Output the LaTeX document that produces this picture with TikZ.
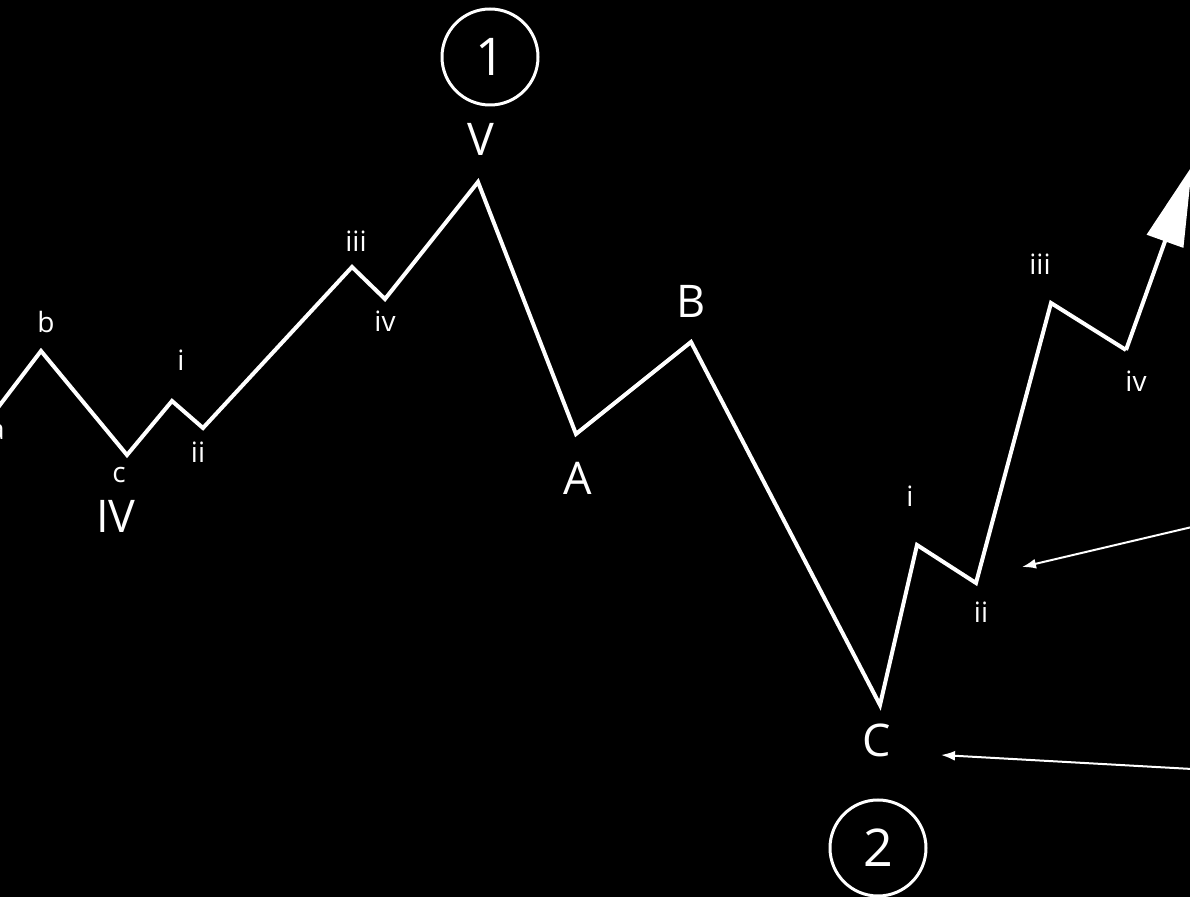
\documentclass[tikz,border=0pt]{standalone}
\usepackage{fontspec}
\setmainfont{Open Sans}
\usetikzlibrary{arrows.meta}

\begin{document}
\begin{tikzpicture}[
x=0.5pt, y=-0.5pt,
wave/.style={draw=white, line width=2pt, line join=miter},
lbl/.style={text=white, anchor=base, inner sep=0pt, font=\fontsize{14}{16}\selectfont},
biglbl/.style={text=white, anchor=base, inner sep=0pt, font=\fontsize{22.5}{26}\selectfont},
degree/.style={draw=white, line width=1.5pt, circle, minimum size=48pt, inner sep=0pt, text=white, font=\fontsize{26}{30}\selectfont},
pointer/.style={draw=white, line width=1pt, -{Latex[length=7pt, width=5pt]}}
]
\fill[black] (0,0) rectangle (1190,897);
\useasboundingbox (0,0) rectangle (1190,897);

% wave points
\coordinate (start) at (-10,418);
\coordinate (b) at (41,351);
\coordinate (c) at (127,455);
\coordinate (i1) at (172,401);
\coordinate (ii1) at (203,428);
\coordinate (iii1) at (352,267);
\coordinate (iv1) at (385,299);
\coordinate (V) at (478,182);
\coordinate (A) at (576,434);
\coordinate (B) at (691,342);
\coordinate (C) at (880,705);
\coordinate (i2) at (917,545);
\coordinate (ii2) at (976,583);
\coordinate (iii2) at (1051,303);
\coordinate (iv2) at (1126,350);
\coordinate (tip) at (1192,166);

\draw[wave] (start) -- (b) -- (c) -- (i1) -- (ii1) -- (iii1) -- (iv1) -- (V) -- (A) -- (B) -- (C) -- (i2) -- (ii2) -- (iii2) -- (iv2);
\draw[wave, -{Triangle[length=40pt, width=19pt, fill=white]}] (iv2) -- (tip);

% labels
\node[lbl] (la) at (-3,440) {a};
\node[lbl] (lb) at (46,333) {b};
\node[lbl] (lc) at (119,483) {c};
\node[biglbl] (lIV) at (116,533) {IV};
\node[lbl] (li1) at (181,371) {i};
\node[lbl] (lii1) at (198,463) {ii};
\node[lbl] (liii1) at (356,252) {iii};
\node[lbl] (liv1) at (385,332) {iv};
\node[biglbl] (lV) at (481,156) {V};
\node[biglbl] (lA) at (578,495) {A};
\node[biglbl] (lB) at (691,318) {B};
\node[lbl] (li2) at (910,507) {i};
\node[lbl] (lii2) at (981,623) {ii};
\node[biglbl] (lC) at (877,757) {C};
\node[lbl] (liii2) at (1040,275) {iii};
\node[lbl] (liv2) at (1136,392) {iv};

\node[degree] (one) at (490,57) {1};
\node[degree] (two) at (878,848) {2};

% pointers from the right edge
\coordinate (p1) at (1192,527);
\coordinate (p2) at (1192,769);
\coordinate (t1) at (1022,567);
\coordinate (t2) at (941,755);
\draw[pointer] (p1) -- (t1);
\draw[pointer] (p2) -- (t2);
\end{tikzpicture}
\end{document}
